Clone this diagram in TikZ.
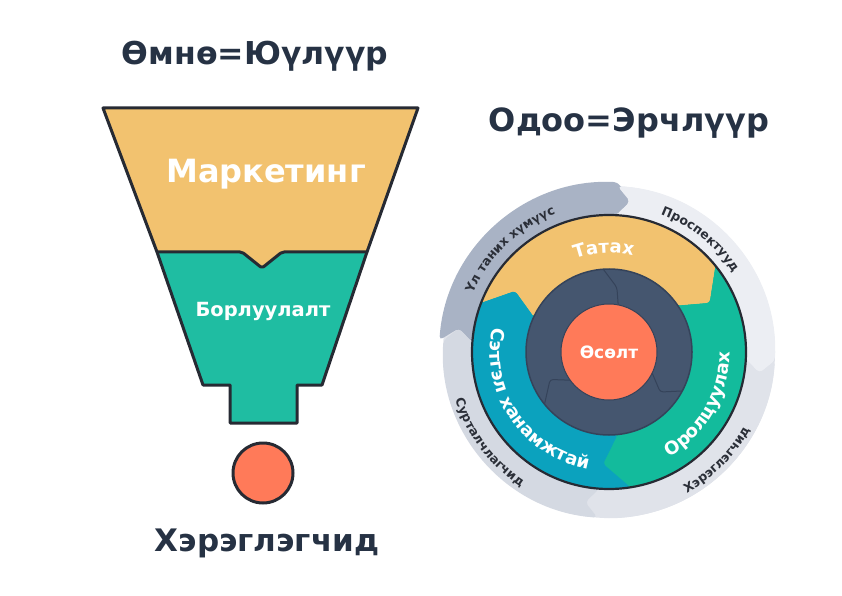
\documentclass[tikz,border=0pt]{standalone}
\usepackage{fontspec}
\setmainfont{DejaVu Sans}
\usetikzlibrary{positioning, calc, decorations.text}

\definecolor{inkdark}{HTML}{263244}
\definecolor{inkline}{HTML}{262A33}
\definecolor{funnelorange}{HTML}{F2C26F}
\definecolor{funnelgreen}{HTML}{1FBDA2}
\definecolor{wheelgreen}{HTML}{13BB9C}
\definecolor{wheelblue}{HTML}{0BA2BE}
\definecolor{wheelnavy}{HTML}{45566F}
\definecolor{navyedge}{HTML}{35435A}
\definecolor{coral}{HTML}{FF7A59}
\definecolor{ringdark}{HTML}{A9B3C5}
\definecolor{ringlight}{HTML}{ECEEF3}
\definecolor{ringmid}{HTML}{E0E3EA}
\definecolor{ringlow}{HTML}{D4D9E2}
\definecolor{ringtext}{HTML}{2B2F38}

\tikzset{
  headline/.style={font=\fontsize{31.5}{31.5}\selectfont\bfseries, text=inkdark},
  bandtext/.style={text=white, font=\bfseries},
  funnelline/.style={draw=inkline, line width=3, line join=round},
  wheeltext/.style={decorate, decoration={text along path, text align=center,
      text color=white, text={|\fontsize{18}{18}\selectfont\bfseries|#1}}},
  ringtext/.style={decorate, decoration={text along path, text align=center,
      text color=ringtext, text={|\fontsize{12.5}{12.5}\selectfont\bfseries|#1}}}
}

\begin{document}
\begin{tikzpicture}[x=1pt, y=1pt]
\useasboundingbox (0,0) rectangle (842,595);

% left: the old funnel
\node[headline] (oldtitle) at (255,539) {Өмнө=Юүлүүр};

\fill[funnelorange] (103,487) -- (418,487) -- (367,343) -- (282,343) -- (262,327) -- (242,343) -- (157,343) -- cycle;
\fill[funnelgreen] (157,343) -- (242,343) -- (262,327) -- (282,343) -- (367,343) -- (322,210) -- (297,210) -- (297,172) -- (230,172) -- (230,210) -- (203,210) -- cycle;
\draw[funnelline, rounded corners=2] (157,343) -- (242,343) -- (262,327) -- (282,343) -- (367,343);
\draw[funnelline] (103,487) -- (418,487) -- (367,343) -- (322,210) -- (297,210) -- (297,172) -- (230,172) -- (230,210) -- (203,210) -- (157,343) -- cycle;

\node[bandtext, font=\fontsize{32}{32}\selectfont\bfseries] (marketing) at (266,421) {Маркетинг};
\node[bandtext, font=\fontsize{19.5}{19.5}\selectfont\bfseries] (sales) at (263,284) {Борлуулалт};

\node[circle, fill=coral, funnelline, minimum size=60, inner sep=0] (drop) at (263,122) {};
\node[headline, font=\fontsize{31}{31}\selectfont\bfseries] (customers) at (267,52) {Хэрэглэгчид};

% right: the flywheel
\node[headline, font=\fontsize{32}{32}\selectfont\bfseries] (newtitle) at (629,472) {Одоо=Эрчлүүр};

\begin{scope}[shift={(609,243)}]
  % outer ring
  \fill[ringmid] (0,0) circle[radius=166];
  \fill[ringdark, rounded corners=4] (176:170) arc[start angle=176, end angle=87, radius=170] -- (82:152) -- (87:137) arc[start angle=87, end angle=176, radius=137] -- (171:152) -- cycle;
  \fill[ringlight, rounded corners=4] (87:166) arc[start angle=87, end angle=-3, radius=166] -- (-8:152) -- (-3:137) arc[start angle=-3, end angle=87, radius=137] -- (82:152) -- cycle;
  \fill[ringmid, rounded corners=4] (-3:166) arc[start angle=-3, end angle=-94, radius=166] -- (-99:152) -- (-94:137) arc[start angle=-94, end angle=-3, radius=137] -- (-8:152) -- cycle;
  \fill[ringlow, rounded corners=4] (-94:166) arc[start angle=-94, end angle=-184, radius=166] -- (-189:152) -- (-184:137) arc[start angle=-184, end angle=-94, radius=137] -- (-99:152) -- cycle;

  % coloured ring
  \fill[wheelgreen] (0,0) circle[radius=137];
  \fill[funnelorange, rounded corners=3] (159:137) arc[start angle=159, end angle=39, radius=137] -- (26:112) -- (34:83) arc[start angle=34, end angle=155, radius=83] -- (147:112) -- cycle;
  \fill[wheelgreen, rounded corners=3] (39:137) arc[start angle=39, end angle=-81, radius=137] -- (-93:112) -- (-84:83) arc[start angle=-84, end angle=34, radius=83] -- (26:112) -- cycle;
  \fill[wheelblue, rounded corners=3] (-81:137) arc[start angle=-81, end angle=-201, radius=137] -- (-213:112) -- (-205:83) arc[start angle=-205, end angle=-84, radius=83] -- (-93:112) -- cycle;
  \draw[inkline, line width=2.2] (0,0) circle[radius=137];

  % inner ring
  \draw[navyedge, fill=wheelnavy, line width=1.5] (0,0) circle[radius=83];
  \draw[navyedge, line width=1, rounded corners=3] (94:83) -- (83:65) -- (79:48);
  \draw[navyedge, line width=1, rounded corners=3] (219:83) -- (205:65) -- (216:48);
  \draw[navyedge, line width=1, rounded corners=3] (-28:83) -- (-38:65) -- (-26:48);
  \node[circle, fill=coral, draw=navyedge, line width=1, minimum size=96, inner sep=0, bandtext, font=\fontsize{17}{17}\selectfont\bfseries] (growth) at (0,0) {Өсөлт};

  % labels on the rings
  \path[wheeltext={Татах}] (143:99) arc[start angle=143, end angle=43, radius=99];
  \path[wheeltext={Оролцуулах}] (-85:121) arc[start angle=-85, end angle=25, radius=121];
  \path[wheeltext={Сэтгэл ханамжтай}] (134:119) arc[start angle=134, end angle=294, radius=119];

  \path[ringtext={Үл таних хүмүүс}] (194:148) arc[start angle=194, end angle=74, radius=148];
  \path[ringtext={Проспектууд}] (111:147) arc[start angle=111, end angle=-9, radius=147];
  \path[ringtext={Хэрэглэгчид}] (-105:161) arc[start angle=-105, end angle=15, radius=161];
  \path[ringtext={Сурталчлагчид}] (157:161) arc[start angle=157, end angle=277, radius=161];
\end{scope}
\end{tikzpicture}
\end{document}
